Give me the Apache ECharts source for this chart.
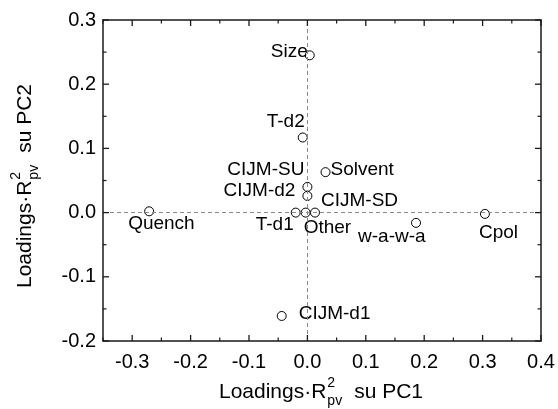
<!DOCTYPE html>
<html>
<head>
<meta charset="utf-8">
<script src="https://cdn.jsdelivr.net/npm/echarts@6/dist/echarts.min.js"></script>
<style>
  html, body { margin: 0; padding: 0; background: #fff; }
  #chart { width: 558px; height: 409px; }
</style>
</head>
<body>
<div id="chart"></div>
<script>
// Loadings weighted by R²pv on the first two principal components
const variables = ['Size', 'T-d2', 'CIJM-SU', 'CIJM-d2', 'Solvent', 'CIJM-SD', 'Other', 'T-d1', 'Quench', 'Cpol', 'w-a-w-a', 'CIJM-d1'];
const pc1 = [0.004, -0.008, 0.000, 0.000, 0.031, 0.013, -0.003, -0.020, -0.271, 0.304, 0.186, -0.044];
const pc2 = [0.245, 0.117, 0.040, 0.026, 0.063, 0.000, 0.000, 0.000, 0.002, -0.002, -0.016, -0.161];

const xTicks = [-0.3, -0.2, -0.1, 0.0, 0.1, 0.2, 0.3, 0.4];
const xMinorTicks = [-0.35, -0.25, -0.15, -0.05, 0.05, 0.15, 0.25, 0.35];
const yTicks = [-0.2, -0.1, 0.0, 0.1, 0.2, 0.3];
const yMinorTicks = [-0.15, -0.05, 0.05, 0.15, 0.25];

// label placement next to each marker: [align, dx, dy]
const labelPlacement = {
  'Size':    ['right', -2, -4],
  'T-d2':    ['right', 2, -16],
  'CIJM-SU': ['right', -3, -17],
  'CIJM-d2': ['right', -12, -5],
  'Solvent': ['left', 5, -2],
  'CIJM-SD': ['left', 6, -12],
  'Other':   ['left', -2, 15],
  'T-d1':    ['right', -2, 12],
  'Quench':  ['left', -21, 12],
  'Cpol':    ['left', -6, 19],
  'w-a-w-a': ['left', -58, 14],
  'CIJM-d1': ['left', 17, -2]
};

const FONT = '"Liberation Sans", Arial, sans-serif';
const AXIS_COLOR = '#1a1a1a';
const GRID = { left: 103, right: 17, top: 20, bottom: 68 };

const points = variables.map((name, i) => {
  const p = labelPlacement[name];
  return {
    name: name,
    value: [pc1[i], pc2[i]],
    label: { show: true, position: 'inside', align: p[0], verticalAlign: 'middle', offset: [p[1], p[2]] }
  };
});

// axis title with stacked super/subscript: Loadings·R²pv su PCn
const measureCtx = document.createElement('canvas').getContext('2d');
function textWidth(s, size) {
  measureCtx.font = size + 'px ' + FONT;
  return measureCtx.measureText(s).width;
}
function axisTitle(pcIndex, cx, cy, rotation) {
  const big = 21, small = 14;
  const head = 'Loadings\u00B7R';
  const tail = 'su PC' + pcIndex;
  const wHead = textWidth(head, big);
  const wStack = Math.max(textWidth('2', small), textWidth('pv', small));
  const wTail = textWidth(tail, big);
  const gapA = 1, gapB = 12;
  const total = wHead + gapA + wStack + gapB + wTail;
  const x0 = -total / 2;
  const piece = (s, size, x, y) => ({
    type: 'text', x: x, y: y,
    style: { text: s, fontSize: size, fontFamily: FONT, fill: '#000', align: 'left', verticalAlign: 'middle' }
  });
  return {
    type: 'group', x: cx, y: cy, rotation: rotation, silent: true,
    children: [
      piece(head, big, x0, 0),
      piece('2', small, x0 + wHead + gapA, -9),
      piece('pv', small, x0 + wHead + gapA, 9),
      piece(tail, big, x0 + wHead + gapA + wStack + gapB, 0)
    ]
  };
}

function axisX(position, withLabels) {
  return {
    type: 'value', position: position, min: -0.35, max: 0.4,
    axisLine: { show: true, onZero: false, lineStyle: { color: AXIS_COLOR, width: 1.5 } },
    axisTick: { show: false },
    axisLabel: withLabels ? {
      show: true, customValues: xTicks, margin: 11, color: '#000', fontSize: 20, fontFamily: FONT,
      formatter: v => v.toFixed(1)
    } : { show: false },
    splitLine: { show: false }
  };
}
function axisY(position, withLabels) {
  return {
    type: 'value', position: position, min: -0.2, max: 0.3, interval: 0.1,
    axisLine: { show: true, onZero: false, lineStyle: { color: AXIS_COLOR, width: 1.5 } },
    axisTick: { show: false },
    axisLabel: withLabels ? {
      show: true, margin: 7, color: '#000', fontSize: 20, fontFamily: FONT,
      formatter: v => v.toFixed(1)
    } : { show: false },
    splitLine: { show: false }
  };
}

const chart = echarts.init(document.getElementById('chart'), null, { renderer: 'canvas' });
chart.setOption({
  animation: false,
  backgroundColor: '#fff',
  grid: Object.assign({ containLabel: false, outerBoundsMode: 'none' }, GRID),
  xAxis: [axisX('bottom', true), axisX('top', false)],
  yAxis: [axisY('left', true), axisY('right', false)],
  series: [
    {
      // dashed zero reference lines
      type: 'scatter', xAxisIndex: 0, yAxisIndex: 0, data: [], z: 1, silent: true,
      markLine: {
        silent: true, symbol: ['none', 'none'], animation: false,
        label: { show: false },
        lineStyle: { type: [4, 3], color: '#8a8a8a', width: 1 },
        data: [{ xAxis: 0 }, { yAxis: 0 }]
      }
    },
    {
      type: 'scatter', xAxisIndex: 0, yAxisIndex: 0, z: 3,
      symbol: 'circle', symbolSize: 9,
      itemStyle: { color: '#fff', borderColor: '#000', borderWidth: 1, opacity: 1 },
      label: { color: '#000', fontSize: 19, fontFamily: FONT, formatter: '{b}' },
      emphasis: { disabled: true },
      data: points
    }
  ]
});

// inward tick marks on all four sides of the frame, placed through the axis scales
const toPxX = v => chart.convertToPixel({ xAxisIndex: 0 }, v);
const toPxY = v => chart.convertToPixel({ yAxisIndex: 0 }, v);
const frameLeft = toPxX(-0.35), frameRight = toPxX(0.4);
const frameTop = toPxY(0.3), frameBottom = toPxY(-0.2);
const tickLine = (x1, y1, x2, y2, w) => ({
  type: 'line', silent: true, z: 10,
  shape: { x1: x1, y1: y1, x2: x2, y2: y2 },
  style: { stroke: AXIS_COLOR, lineWidth: w }
});
const tickMarks = [];
const MAJOR_LEN = 6, MINOR_LEN = 3.5;
xTicks.forEach(v => {
  const x = toPxX(v);
  tickMarks.push(tickLine(x, frameBottom, x, frameBottom - MAJOR_LEN, 1.3), tickLine(x, frameTop, x, frameTop + MAJOR_LEN, 1.3));
});
xMinorTicks.forEach(v => {
  const x = toPxX(v);
  tickMarks.push(tickLine(x, frameBottom, x, frameBottom - MINOR_LEN, 1.2), tickLine(x, frameTop, x, frameTop + MINOR_LEN, 1.2));
});
yTicks.forEach(v => {
  const y = toPxY(v);
  tickMarks.push(tickLine(frameLeft, y, frameLeft + MAJOR_LEN, y, 1.3), tickLine(frameRight, y, frameRight - MAJOR_LEN, y, 1.3));
});
yMinorTicks.forEach(v => {
  const y = toPxY(v);
  tickMarks.push(tickLine(frameLeft, y, frameLeft + MINOR_LEN, y, 1.2), tickLine(frameRight, y, frameRight - MINOR_LEN, y, 1.2));
});

chart.setOption({
  graphic: [
    axisTitle(1, 321, 392, 0),
    axisTitle(2, 25, 186, Math.PI / 2)
  ].concat(tickMarks)
});
</script>
</body>
</html>
